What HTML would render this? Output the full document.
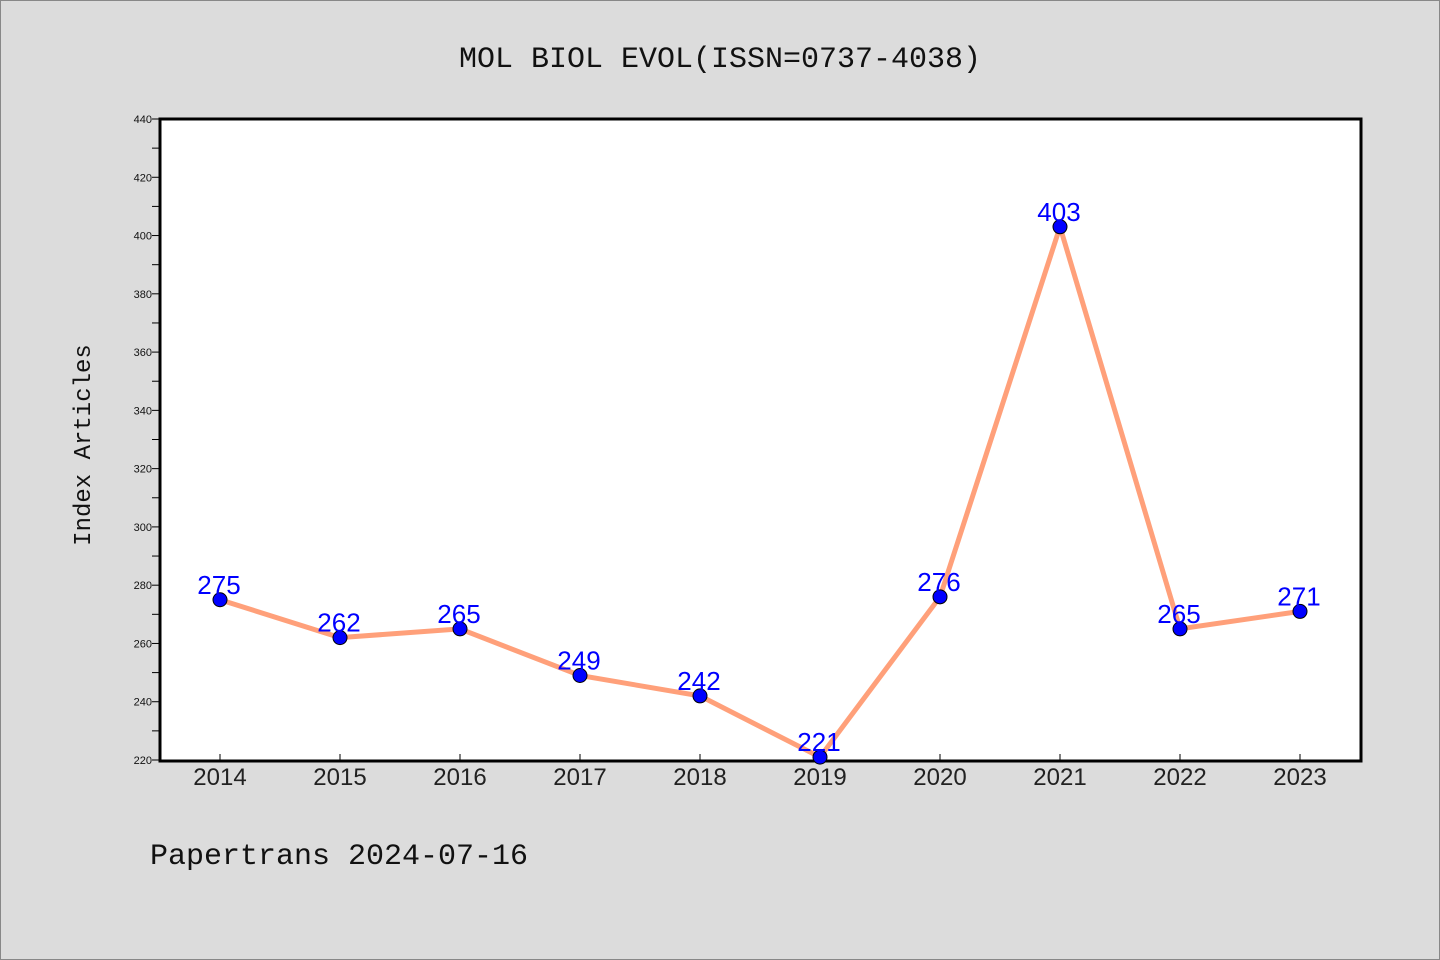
<!DOCTYPE html>
<html><head><meta charset="utf-8"><style>
body{margin:0;background:#dcdcdc;}
svg{display:block}
</style></head><body>
<svg width="1440" height="960" xmlns="http://www.w3.org/2000/svg">
<rect x="0.5" y="0.5" width="1439" height="959" fill="#dcdcdc" stroke="#888"/>
<text x="720" y="67" text-anchor="middle" font-family="Liberation Mono, monospace" font-size="30" fill="#111">MOL BIOL EVOL(ISSN=0737-4038)</text>
<rect x="160" y="119" width="1201" height="642" fill="#fff" stroke="#000" stroke-width="3"/>
<text transform="translate(90,445) rotate(-90)" text-anchor="middle" font-family="Liberation Mono, monospace" font-size="24" fill="#111">Index Articles</text>
<text x="150" y="864" font-family="Liberation Mono, monospace" font-size="30" fill="#111">Papertrans 2024-07-16</text>
<g id="axes"></g>
<g id="marks"></g>
</svg>
<script>
const years = ["2014","2015","2016","2017","2018","2019","2020","2021","2022","2023"];
const values = [275,262,265,249,242,221,276,403,265,271];
const yTicks = [220,240,260,280,300,320,340,360,380,400,420,440];
const NS="http://www.w3.org/2000/svg";
const yMin=220,yMax=440,plotTop=119,plotBot=760;
function ys(v){return plotBot-(v-yMin)/(yMax-yMin)*(plotBot-plotTop);}
function xs(i){return 220+i*120;}
function mk(t,a,p){const e=document.createElementNS(NS,t);for(const k in a)e.setAttribute(k,a[k]);p.appendChild(e);return e;}
const ax=document.getElementById('axes'),mg=document.getElementById('marks');
for(let v=yMin;v<=yMax;v+=10){
  const l=mk('line',{x1:152,x2:160,y1:ys(v),y2:ys(v),stroke:'#000','stroke-width':1},ax);
  
  
}
yTicks.forEach(v=>{
  const t=mk('text',{x:152,y:ys(v)+4,'text-anchor':'end','font-family':'Liberation Sans, sans-serif','font-size':11,fill:'#111'},ax);
  t.textContent=v;
  
  
});
years.forEach((y,i)=>{
  const l=mk('line',{x1:xs(i),x2:xs(i),y1:plotBot-6,y2:plotBot,stroke:'#000','stroke-width':1},ax);
  
  
  const t=mk('text',{x:xs(i),y:785,'text-anchor':'middle','font-family':'Liberation Sans, sans-serif','font-size':24,fill:'#222'},ax);
  t.textContent=y;
  
  
});
const pl=mk('polyline',{points:values.map((v,i)=>xs(i)+','+ys(v)).join(' '),fill:'none',stroke:'#ffa07a','stroke-width':5},mg);


values.forEach((v,i)=>{
  const c=mk('circle',{cx:xs(i),cy:ys(v),r:7,fill:'#0000ff',stroke:'#000','stroke-width':1},mg);
  
  
  const t=mk('text',{x:xs(i)-1,y:ys(v)-6,'text-anchor':'middle','font-family':'Liberation Sans, sans-serif','font-size':26,fill:'#0000ff'},mg);
  t.textContent=v;
  
  
});
</script>
</body></html>
